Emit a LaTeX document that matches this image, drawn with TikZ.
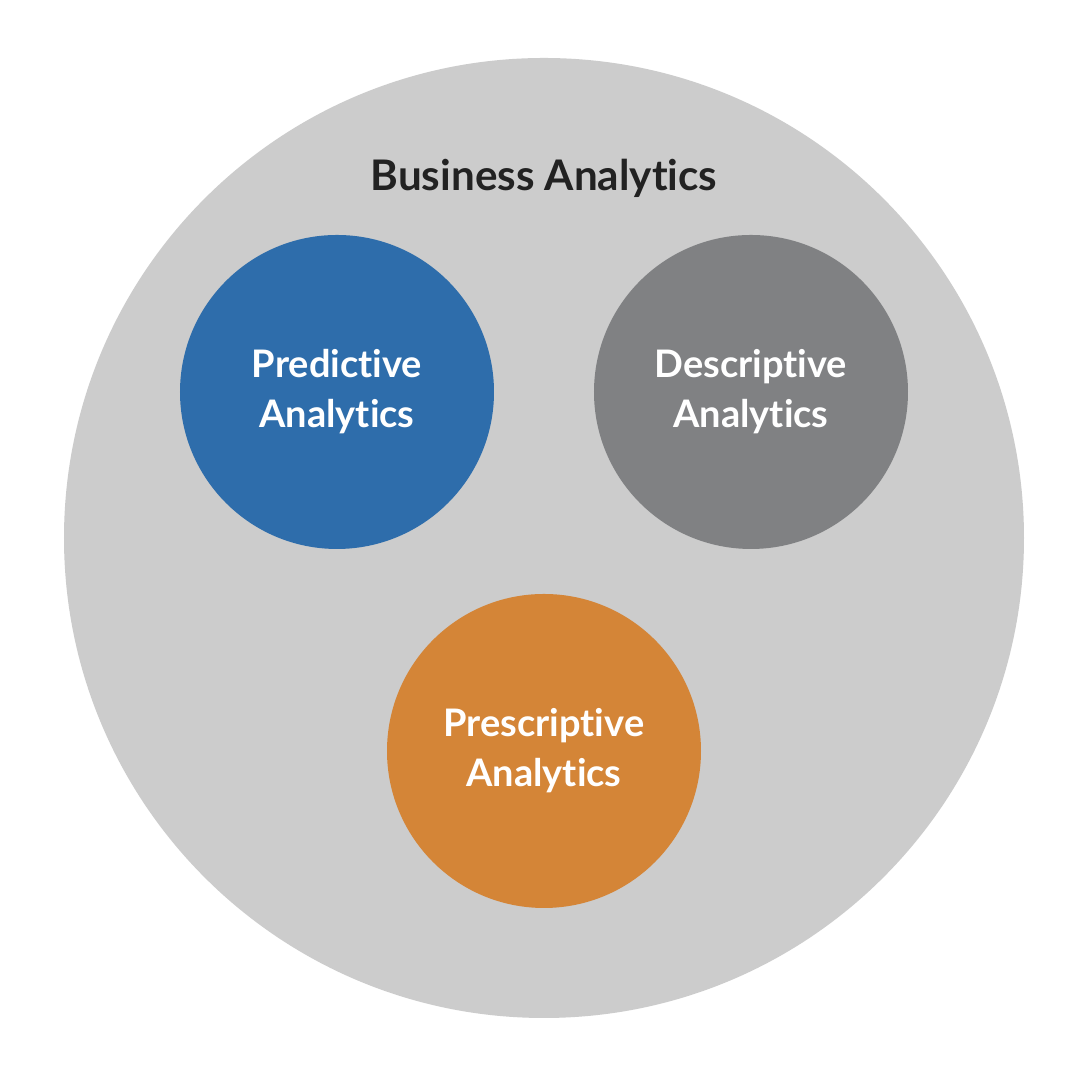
\documentclass[tikz,border=0pt]{standalone}
\usepackage{fontspec}
\setmainfont{Lato}[Ligatures=NoCommon]
\usepackage{xcolor}
\definecolor{outergray}{HTML}{CCCCCC}
\definecolor{predblue}{HTML}{2E6DAB}
\definecolor{descgray}{HTML}{808183}
\definecolor{prescorange}{HTML}{D48537}
\definecolor{titleink}{HTML}{222222}
\tikzset{area/.style={circle,draw=none,minimum size=3.14cm,inner sep=0pt,
    align=center,text=white,font=\fontsize{10.8}{14.2}\selectfont\bfseries},
    whole/.style={circle,draw=none,fill=outergray,minimum size=9.6cm,inner sep=0pt}}
\begin{document}
\begin{tikzpicture}
\useasboundingbox[fill=white] (0,0) rectangle (10.9,10.8);
\node[whole] (analytics) at (5.44,5.42) {};
\node[text=titleink,font=\fontsize{12}{14}\selectfont\bfseries] (business) at (5.44,9.02) {Business Analytics};
\node[area,fill=predblue] (predictive) at (3.37,6.88) {Predictive\\Analytics};
\node[area,fill=descgray] (descriptive) at (7.51,6.88) {Descriptive\\Analytics};
\node[area,fill=prescorange] (prescriptive) at (5.44,3.29) {Prescriptive\\Analytics};
\end{tikzpicture}
\end{document}
